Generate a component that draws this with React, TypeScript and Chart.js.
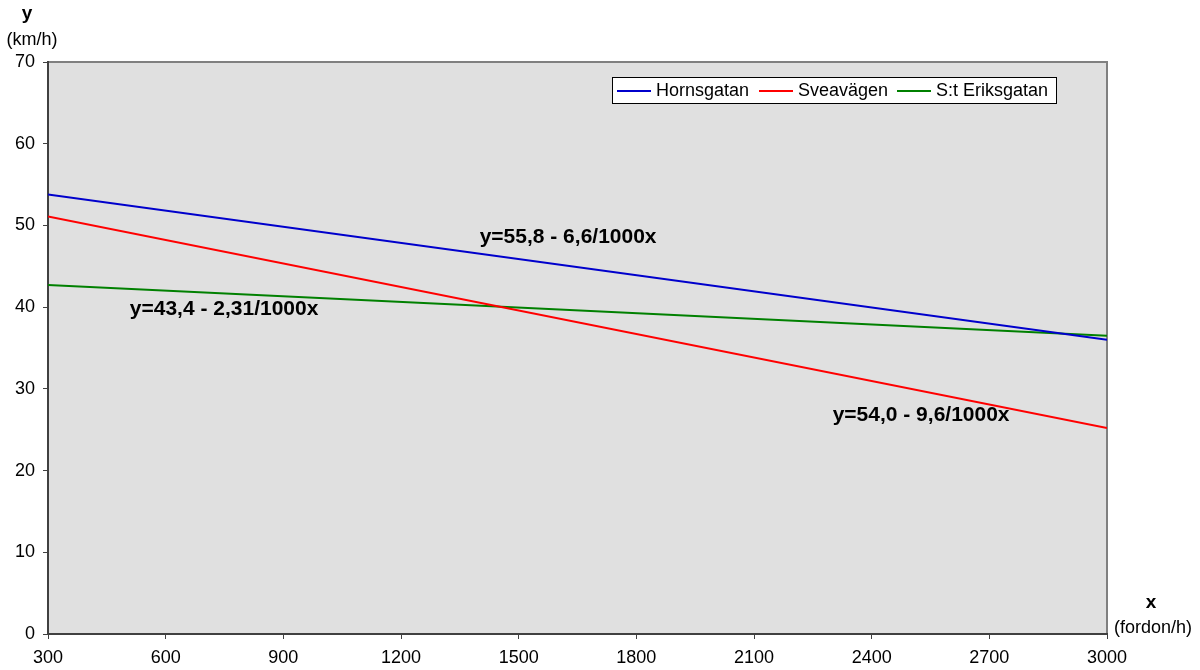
import React, { useEffect, useRef } from "react";
import { Chart, registerables } from "chart.js";

Chart.register(...registerables);

const xValues = [300, 3000];
const hornsgatan = [53.8, 36.0];
const sveavagen = [51.1, 25.2];
const stEriksgatan = [42.7, 36.5];
const seriesNames = ["Hornsgatan", "Sveavägen", "S:t Eriksgatan"];
const seriesColors = ["#0000cc", "#ff0000", "#008000"];
const xTicks = [300, 600, 900, 1200, 1500, 1800, 2100, 2400, 2700, 3000];
const yTicks = [0, 10, 20, 30, 40, 50, 60, 70];
const annotations = [
  { text: "y=55,8 - 6,6/1000x", x: 1626, y: 48.6 },
  { text: "y=43,4 - 2,31/1000x", x: 749, y: 39.8 },
  { text: "y=54,0 - 9,6/1000x", x: 2526, y: 26.8 },
];

const FONT = "'Liberation Sans', Arial, sans-serif";

const decorPlugin = {
  id: "decor",
  beforeDraw(chart: any) {
    const { ctx, chartArea: a } = chart;
    ctx.save();
    ctx.fillStyle = "#e0e0e0";
    ctx.fillRect(a.left, a.top, a.right - a.left, a.bottom - a.top);
    ctx.strokeStyle = "#808080";
    ctx.lineWidth = 2;
    ctx.beginPath();
    ctx.moveTo(a.left, a.top);
    ctx.lineTo(a.right, a.top);
    ctx.lineTo(a.right, a.bottom);
    ctx.stroke();
    ctx.restore();
  },
  afterDraw(chart: any) {
    const { ctx, scales } = chart;
    ctx.save();
    ctx.fillStyle = "#000";
    ctx.textAlign = "center";
    ctx.textBaseline = "middle";
    ctx.font = `bold 19px ${FONT}`;
    ctx.fillText("y", 27, 14);
    ctx.font = `18px ${FONT}`;
    ctx.fillText("(km/h)", 32, 40);
    ctx.font = `bold 19px ${FONT}`;
    ctx.fillText("x", 1151, 603);
    ctx.font = `18px ${FONT}`;
    ctx.fillText("(fordon/h)", 1153, 628);

    ctx.font = `bold 21px ${FONT}`;
    annotations.forEach((an) => {
      ctx.fillText(an.text, scales.x.getPixelForValue(an.x), scales.y.getPixelForValue(an.y));
    });

    const lx = 612, ly = 77, lw = 444, lh = 26;
    ctx.fillStyle = "#fff";
    ctx.fillRect(lx, ly, lw, lh);
    ctx.strokeStyle = "#000";
    ctx.lineWidth = 1;
    ctx.strokeRect(lx + 0.5, ly + 0.5, lw, lh);
    ctx.font = `18px ${FONT}`;
    ctx.textAlign = "left";
    const starts = [617, 759, 897];
    seriesNames.forEach((n, i) => {
      ctx.strokeStyle = seriesColors[i];
      ctx.lineWidth = 2;
      ctx.beginPath();
      ctx.moveTo(starts[i], ly + 14);
      ctx.lineTo(starts[i] + 34, ly + 14);
      ctx.stroke();
      ctx.fillStyle = "#000";
      ctx.fillText(n, starts[i] + 39, ly + 14);
    });
    ctx.restore();
  },
};

export default function App() {
  const ref = useRef<HTMLCanvasElement>(null);
  useEffect(() => {
    const mk = (vals: number[]) => xValues.map((x, i) => ({ x, y: vals[i] }));
    const chart = new Chart(ref.current!, {
      type: "scatter",
      data: {
        datasets: [hornsgatan, sveavagen, stEriksgatan].map((v, i) => ({
          label: seriesNames[i],
          data: mk(v),
          showLine: true,
          borderColor: seriesColors[i],
          backgroundColor: seriesColors[i],
          borderWidth: 2,
          pointRadius: 0,
        })),
      },
      options: {
        responsive: false,
        animation: false,
        layout: { padding: { top: 62, right: 93, left: 0, bottom: 0 } },
        plugins: { legend: { display: false }, tooltip: { enabled: false } },
        scales: {
          x: {
            type: "linear",
            min: 300,
            max: 3000,
            afterBuildTicks: (s: any) => { s.ticks = xTicks.map((v) => ({ value: v })); },
            afterFit: (s: any) => { s.height = 36; },
            grid: { drawOnChartArea: false, drawTicks: true, tickLength: 5, color: "#404040" },
            border: { color: "#404040", width: 2 },
            ticks: {
              color: "#000",
              font: { family: FONT, size: 18 },
              padding: 8,
              maxRotation: 0,
              autoSkip: false,
              callback: (v: any) => String(v),
            },
          },
          y: {
            type: "linear",
            min: 0,
            max: 70,
            afterBuildTicks: (s: any) => { s.ticks = yTicks.map((v) => ({ value: v })); },
            afterFit: (s: any) => { s.width = 48; },
            grid: { drawOnChartArea: false, drawTicks: true, tickLength: 5, color: "#404040" },
            border: { color: "#404040", width: 2 },
            ticks: { color: "#000", font: { family: FONT, size: 18 }, padding: 8, callback: (v: any) => String(v) },
          },
        },
      },
      plugins: [decorPlugin],
    });
    return () => chart.destroy();
  }, []);
  return (
    <div style={{ position: "absolute", left: 0, top: 0, width: 1200, height: 670 }}>
      <canvas ref={ref} width={1200} height={670} style={{ width: 1200, height: 670 }} />
    </div>
  );
}
